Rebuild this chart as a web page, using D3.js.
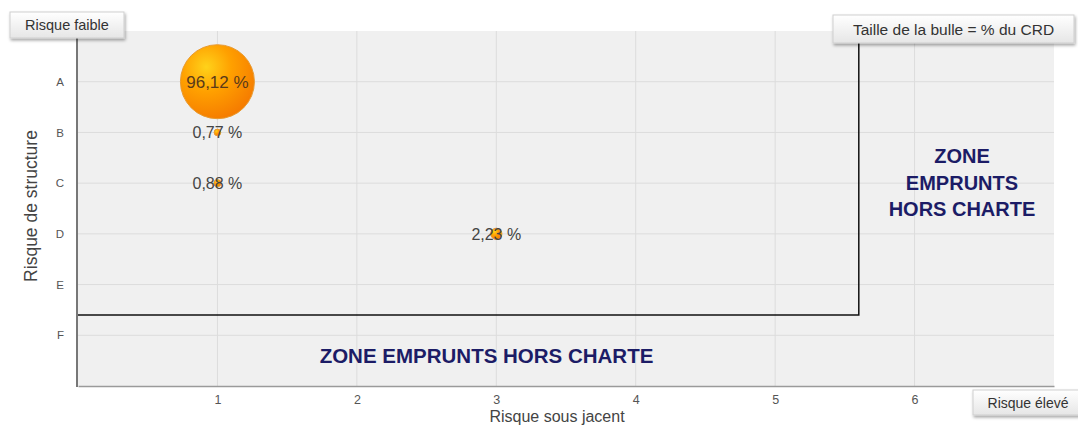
<!DOCTYPE html>
<html><head><meta charset="utf-8">
<script src="https://cdn.jsdelivr.net/npm/d3@7"></script>
<style>
html,body{margin:0;padding:0;background:#fff;}
svg{display:block;font-family:"Liberation Sans",Arial,sans-serif;}
</style></head>
<body>
<svg id="chart" width="1078" height="428"></svg>
<script>
// ---- data ----
const xTicks = [1, 2, 3, 4, 5, 6];
const yCategories = ["A", "B", "C", "D", "E", "F"];
const bubbleX = [1, 1, 1, 3];
const bubbleY = ["A", "B", "C", "D"];
const bubbleValues = [96.12, 0.77, 0.88, 2.23];
const charterLimitX = 5.6;
const charterLimitY = 5.6;
const zoneLabel = "ZONE EMPRUNTS HORS CHARTE";
const zoneLabelLines = ["ZONE", "EMPRUNTS", "HORS CHARTE"];

const svg = d3.select("#chart");
const x = d3.scaleLinear().domain([0, 7]).range([78, 1054]);
const y = d3.scaleLinear().domain([0, 7]).range([31, 386]);
const yPos = c => y(yCategories.indexOf(c) + 1);
const r = d3.scaleSqrt().domain([0, d3.max(bubbleValues)]).range([0, 37]);
const fmt = v => v.toFixed(2).replace(".", ",") + " %";

const defs = svg.append("defs");
const rg = defs.append("radialGradient").attr("id", "bub").attr("cx", "35%").attr("cy", "30%").attr("r", "75%");
rg.append("stop").attr("offset", "0%").attr("stop-color", "#ffd21a");
rg.append("stop").attr("offset", "45%").attr("stop-color", "#ffa000");
rg.append("stop").attr("offset", "100%").attr("stop-color", "#f57a00");
const bg = defs.append("linearGradient").attr("id", "btn").attr("x1", 0).attr("y1", 0).attr("x2", 0).attr("y2", 1);
bg.append("stop").attr("offset", "0%").attr("stop-color", "#ffffff");
bg.append("stop").attr("offset", "100%").attr("stop-color", "#e6e6e6");
const sh = defs.append("filter").attr("id", "shadow").attr("x", "-10%").attr("y", "-30%").attr("width", "130%").attr("height", "180%");
sh.append("feDropShadow").attr("dx", 1).attr("dy", 2).attr("stdDeviation", 1.5).attr("flood-color", "#000").attr("flood-opacity", 0.35);

// plot background
svg.append("rect").attr("x", x(0)).attr("y", y(0)).attr("width", x(7) - x(0)).attr("height", y(7) - y(0)).attr("fill", "#f0f0f0");

// grid
svg.append("g").selectAll("line").data(xTicks).join("line")
  .attr("x1", d => x(d)).attr("x2", d => x(d)).attr("y1", y(0)).attr("y2", y(7))
  .attr("stroke", "#dcdcdc").attr("stroke-width", 1);
svg.append("g").selectAll("line").data(yCategories).join("line")
  .attr("x1", x(0)).attr("x2", x(7)).attr("y1", d => yPos(d)).attr("y2", d => yPos(d))
  .attr("stroke", "#dcdcdc").attr("stroke-width", 1);

// axes
const xAxis = svg.append("g").attr("transform", `translate(0,${y(7)})`)
  .call(d3.axisBottom(x).tickValues(xTicks).tickFormat(d3.format("d")).tickSize(0).tickPadding(9));
xAxis.select(".domain").attr("stroke", "#9a9a9a").attr("stroke-width", 1.5);
xAxis.selectAll("text").attr("font-size", 12.5).attr("fill", "#555").attr("font-family", "Liberation Sans, Arial, sans-serif");

const yAxis = svg.append("g").attr("transform", `translate(${x(0) - 1},0)`)
  .call(d3.axisLeft(y).tickValues(d3.range(1, 7)).tickFormat(i => yCategories[i - 1]).tickSize(0).tickPadding(13));
yAxis.select(".domain").remove();
yAxis.selectAll("text").attr("font-size", 11.5).attr("fill", "#555").attr("font-family", "Liberation Sans, Arial, sans-serif");
svg.append("line").attr("x1", x(0) - 1).attr("x2", x(0) - 1).attr("y1", 38).attr("y2", y(7) + 1)
  .attr("stroke", "#777").attr("stroke-width", 2);

// charter limit lines
svg.append("path")
  .attr("d", d3.line()([[x(0), y(charterLimitY)], [x(charterLimitX), y(charterLimitY)], [x(charterLimitX), 42]]))
  .attr("fill", "none").attr("stroke", "#111").attr("stroke-width", 1.5);

// zone labels
svg.append("text").attr("x", x(2.93)).attr("y", y(6.55)).attr("text-anchor", "middle")
  .attr("font-size", 20.5).attr("font-weight", "bold").attr("fill", "#1c1c66").text(zoneLabel);
svg.append("g").selectAll("text").data(zoneLabelLines).join("text")
  .attr("x", x(6.34)).attr("y", (d, i) => 163 + i * 26.5).attr("text-anchor", "middle")
  .attr("font-size", 20).attr("font-weight", "bold").attr("fill", "#1c1c66").text(d => d);

// bubbles
const bubbles = bubbleValues.map((v, i) => ({ v, cx: bubbleX[i], cy: bubbleY[i] }));
svg.append("g").selectAll("circle").data(bubbles).join("circle")
  .attr("cx", d => x(d.cx)).attr("cy", d => yPos(d.cy)).attr("r", d => r(d.v))
  .attr("fill", "url(#bub)").attr("stroke", "#e89a30").attr("stroke-width", 1);
svg.append("g").selectAll("text").data(bubbles).join("text")
  .attr("x", d => x(d.cx)).attr("y", d => yPos(d.cy) + 6).attr("text-anchor", "middle")
  .attr("font-size", d => d.v > 50 ? 17 : 16).attr("fill", d => d.v > 50 ? "#5a3a1a" : "#444")
  .text(d => fmt(d.v));

// axis titles
svg.append("text").attr("x", 557).attr("y", 422).attr("text-anchor", "middle")
  .attr("font-size", 16).attr("fill", "#444").text("Risque sous jacent");
svg.append("text").attr("transform", `translate(37,206) rotate(-90)`).attr("text-anchor", "middle")
  .attr("font-size", 17.5).attr("fill", "#444").text("Risque de structure");

// corner boxes
function box(x0, y0, w, h, label, fs) {
  const g = svg.append("g");
  g.append("rect").attr("x", x0).attr("y", y0).attr("width", w).attr("height", h)
    .attr("fill", "url(#btn)").attr("stroke", "#cfcfcf").attr("stroke-width", 1).attr("filter", "url(#shadow)");
  g.append("text").attr("x", x0 + w / 2).attr("y", y0 + h / 2 + fs * 0.36).attr("text-anchor", "middle")
    .attr("font-size", fs).attr("fill", "#333").text(label);
}
box(10, 12, 114, 26, "Risque faible", 14.5);
box(833, 15, 241, 28, "Taille de la bulle = % du CRD", 15.5);
box(973, 390, 110, 25, "Risque élevé", 14);
</script>
</body></html>
